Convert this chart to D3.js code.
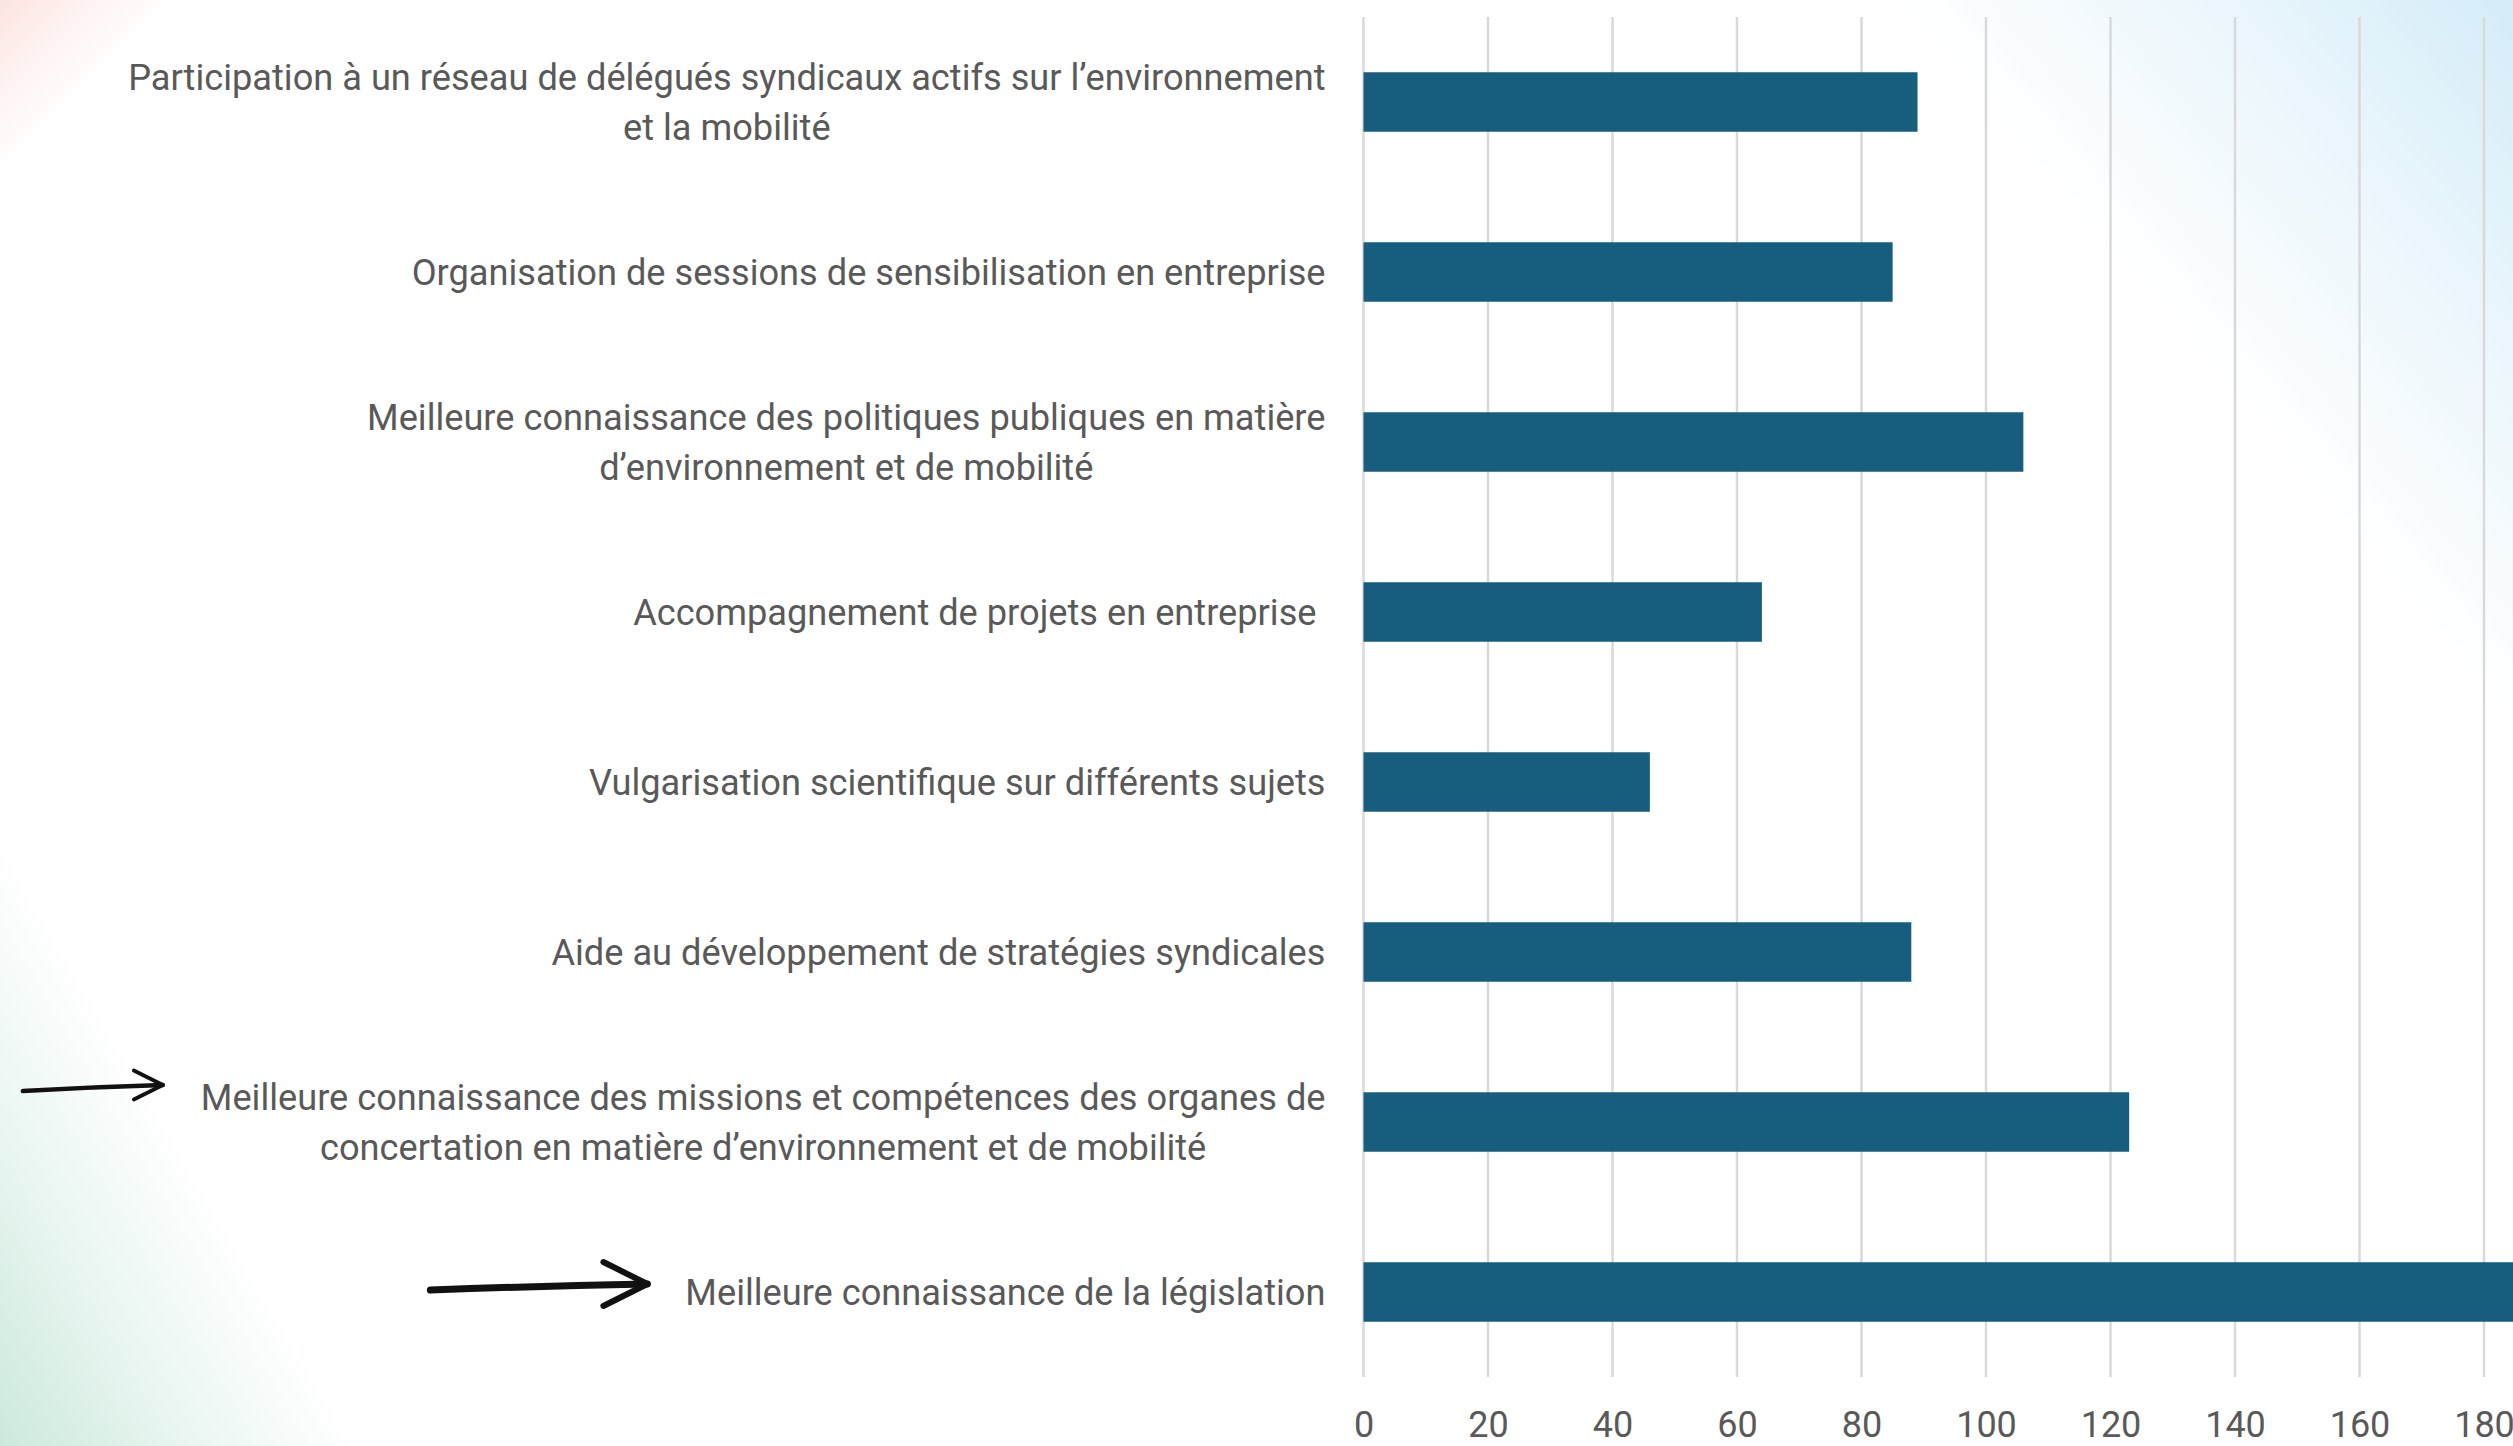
<!DOCTYPE html>
<meta charset="utf-8">
<style>
  body { margin: 0; overflow: hidden; background: #fff; }
  svg { display: block; }
  .label { font-family: Roboto, "Noto Sans", sans-serif; font-size: 36.2px; fill: #595959; white-space: pre; }
  .tick-label { font-family: Roboto, "Noto Sans", sans-serif; font-size: 36px; fill: #595959; }
  .grid line { stroke: #d9d9d9; stroke-width: 2.5; }
  .arrow { fill: none; stroke: #111; stroke-linecap: round; stroke-linejoin: round; }
</style>
<body>
<script src="https://cdn.jsdelivr.net/npm/d3@7"></script>
<script>
// categories, top to bottom (\n = line break in the label)
const categories = [
  'Participation à un réseau de délégués syndicaux actifs sur l’environnement\net la mobilité',
  'Organisation de sessions de sensibilisation en entreprise',
  'Meilleure connaissance des politiques publiques en matière\nd’environnement et de mobilité',
  'Accompagnement de projets en entreprise ',
  'Vulgarisation scientifique sur différents sujets',
  'Aide au développement de stratégies syndicales',
  'Meilleure connaissance des missions et compétences des organes de\nconcertation en matière d’environnement et de mobilité',
  'Meilleure connaissance de la législation'
];
const values = [89, 85, 106, 64, 46, 88, 123, 190];
const ticks = [0, 20, 40, 60, 80, 100, 120, 140, 160, 180];
// categories pointed at with a hand-drawn arrow
const highlighted = [categories[6], categories[7]];

const width = 2513;
const height = 1446;

const svg = d3.select('body').append('svg')
  .attr('width', width)
  .attr('height', height);

// soft corner washes in the background
const defs = svg.append('defs');
function wash(id, x1, y1, x2, y2, color) {
  const g = defs.append('linearGradient')
    .attr('id', id)
    .attr('gradientUnits', 'userSpaceOnUse')
    .attr('x1', x1).attr('y1', y1).attr('x2', x2).attr('y2', y2);
  g.append('stop').attr('offset', 0).attr('stop-color', color).attr('stop-opacity', 1);
  g.append('stop').attr('offset', 0.5).attr('stop-color', color).attr('stop-opacity', 0.45);
  g.append('stop').attr('offset', 1).attr('stop-color', color).attr('stop-opacity', 0);
  svg.append('rect').attr('width', width).attr('height', height).attr('fill', `url(#${id})`);
}
svg.append('rect').attr('width', width).attr('height', height).attr('fill', '#fff');
wash('wash-blue', 2513, 0, 2150, 310, '#d4ecf8');
wash('wash-green', 0, 1446, 265, 1290, '#cce9dd');
wash('wash-pink', 0, 0, 90, 90, '#fce4e0');

const x = d3.scaleLinear()
  .domain([0, 180])
  .range([1363.5, 2484]);

const y = d3.scaleBand()
  .domain(categories)
  .range([17, 1377])
  .paddingInner(0.65)
  .paddingOuter(0.325);

// vertical gridlines
svg.append('g')
  .attr('class', 'grid')
  .selectAll('line')
  .data(ticks)
  .enter().append('line')
    .attr('x1', d => x(d))
    .attr('x2', d => x(d))
    .attr('y1', 17)
    .attr('y2', 1377);

// x axis labels
const xAxis = svg.append('g')
  .attr('transform', 'translate(0,1437)')
  .call(d3.axisBottom(x).tickValues(ticks).tickSize(0).tickPadding(0));
xAxis.select('.domain').remove();
xAxis.selectAll('text')
  .attr('class', 'tick-label')
  .attr('dy', 0)
  .attr('fill', null)
  .attr('font-size', null)
  .attr('font-family', null);

// bars
svg.append('g')
  .selectAll('rect')
  .data(categories)
  .enter().append('rect')
    .attr('x', x(0))
    .attr('y', d => y(d))
    .attr('width', (d, i) => x(values[i]) - x(0))
    .attr('height', y.bandwidth())
    .attr('fill', '#175d7e');

// category labels: lines centred on each other, block right-aligned
const labelRight = 1325.5;
const lineHeight = 50;
const labelLeft = {};
categories.forEach(cat => {
  const lines = cat.split('\n');
  const cy = y(cat) + y.bandwidth() / 2;
  const t = svg.append('text')
    .attr('class', 'label')
    .attr('text-anchor', 'middle');
  lines.forEach((line, i) => {
    t.append('tspan')
      .attr('x', 0)
      .attr('y', cy + (i - (lines.length - 1) / 2) * lineHeight)
      .attr('dy', '0.35em')
      .text(line);
  });
  const w = d3.max(t.selectAll('tspan').nodes(), n => n.getComputedTextLength());
  t.selectAll('tspan').attr('x', labelRight - w / 2);
  labelLeft[cat] = labelRight - w;
});

// hand-drawn arrows pointing at the highlighted labels
function arrow(cat, lineOffset, len, head, weight) {
  const tipX = labelLeft[cat] - 38;
  const tipY = y(cat) + y.bandwidth() / 2 + lineOffset;
  const g = svg.append('g').attr('class', 'arrow');
  g.append('path')
    .attr('d', `M${tipX - len},${tipY + 6} Q${tipX - len / 2},${tipY + 2} ${tipX},${tipY}`)
    .attr('stroke-width', weight);
  g.append('path')
    .attr('d', `M${tipX - head},${tipY - head * 0.5} L${tipX},${tipY} L${tipX - head},${tipY + head * 0.5}`)
    .attr('stroke-width', weight * 0.85);
}
arrow(highlighted[0], -37, 140, 29, 4.5);
arrow(highlighted[1], -8, 217, 44, 7);
</script>
</body>
</html>
